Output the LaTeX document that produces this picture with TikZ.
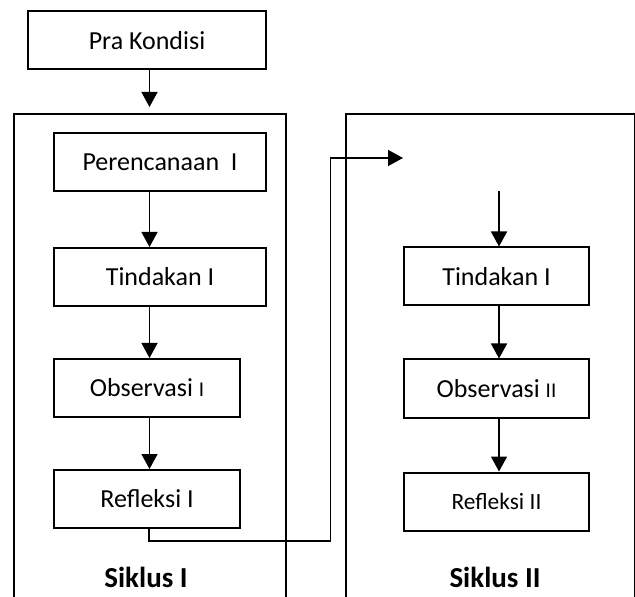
\documentclass[tikz,border=0pt]{standalone}
\usepackage{fontspec}
\setmainfont{Carlito}
\usetikzlibrary{arrows.meta}
\begin{document}
\begin{tikzpicture}[x=0.5pt,y=-0.5pt,
  box/.style={draw,line width=1pt,inner sep=0pt,minimum height=29pt,font=\fontsize{13}{15}\selectfont},
  cycle/.style={draw,line width=0.9pt,inner sep=0pt,minimum height=280pt},
  conn/.style={line width=0.7pt},
  arr/.style={conn,-{Triangle[length=7.5pt,width=8pt]}},
  lbl/.style={font=\fontsize{14.5}{16}\bfseries\selectfont}]
\clip (0,0) rectangle (635,597);
% cycle frames
\node[cycle,minimum width=136pt,anchor=north west] (cyc1) at (13,113) {};
\node[cycle,minimum width=144.7pt,anchor=north west] (cyc2) at (345,113) {};
% boxes
\node[box,minimum width=119pt] (pra) at (147,40.5) {Pra Kondisi};
\node[box,minimum width=106pt] (per) at (160,162) {Perencanaan\ \ I};
\node[box,minimum width=106pt] (tin1) at (160,277) {Tindakan I};
\node[box,minimum width=93pt] (obs1) at (147,388) {Observasi {\fontsize{10.5}{12}\selectfont I}};
\node[box,minimum width=93pt] (ref1) at (147,499) {Refleksi I};
\node[box,minimum width=92.5pt] (tin2) at (496.5,276.5) {Tindakan I};
\node[box,minimum width=92.5pt] (obs2) at (496.5,388.5) {Observasi {\fontsize{10.5}{12}\selectfont II}};
\node[box,minimum width=92.5pt,font=\fontsize{11.7}{14}\selectfont] (ref2) at (496.5,501.5) {Refleksi II};
% labels
\node[lbl] (s1) at (146,577) {Siklus I};
\node[lbl] (s2) at (495,577) {Siklus II};
% axes
\coordinate (axL) at (149.5,0);
\coordinate (axR) at (499,0);
\coordinate (prtip) at (149.5,107);
\coordinate (rtop) at (499,191);
\coordinate (c1) at (149,541);
\coordinate (c2) at (330.5,541);
\coordinate (c3) at (330.5,158);
\coordinate (ctip) at (403,158);
% arrows left
\draw[arr] (pra.south -| axL) -- (prtip);
\draw[arr] (per.south -| axL) -- (tin1.north -| axL);
\draw[arr] (tin1.south -| axL) -- (obs1.north -| axL);
\draw[arr] (obs1.south -| axL) -- (ref1.north -| axL);
% arrows right
\draw[arr] (rtop) -- (tin2.north -| axR);
\draw[arr] (tin2.south -| axR) -- (obs2.north -| axR);
\draw[arr] (obs2.south -| axR) -- (ref2.north -| axR);
% connector
\draw[arr] (ref1.south -| c1) -- (c1) -- (c2) -- (c3) -- (ctip);
\end{tikzpicture}
\end{document}
